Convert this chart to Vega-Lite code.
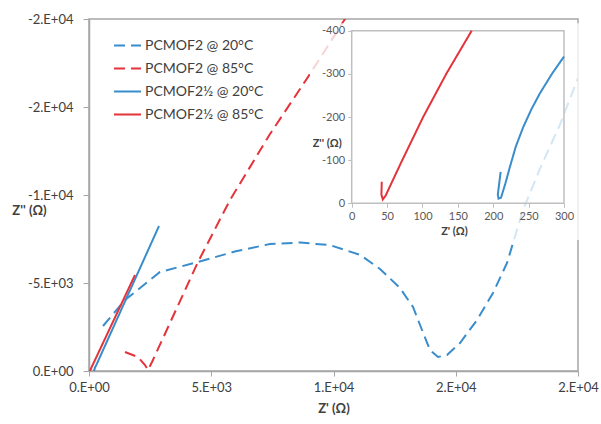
{
  "$schema": "https://vega.github.io/schema/vega-lite/v6.json",
  "width": 489,
  "height": 352,
  "autosize": {"type": "none"},
  "padding": {"left": 89, "top": 19, "right": 23, "bottom": 53},
  "background": "white",
  "config": {"font": "Lato", "view": {"stroke": "#A6A6A6", "strokeWidth": 1.5}},
  "datasets": {
    "imp": [
      {"series": "PCMOF2 @ 20°C", "i": 1, "zr": 573, "zi": -2557},
      {"series": "PCMOF2 @ 20°C", "i": 2, "zr": 1472, "zi": -4034},
      {"series": "PCMOF2 @ 20°C", "i": 3, "zr": 2904, "zi": -5625},
      {"series": "PCMOF2 @ 20°C", "i": 4, "zr": 4458, "zi": -6193},
      {"series": "PCMOF2 @ 20°C", "i": 5, "zr": 6000, "zi": -6800},
      {"series": "PCMOF2 @ 20°C", "i": 6, "zr": 7403, "zi": -7216},
      {"series": "PCMOF2 @ 20°C", "i": 7, "zr": 8630, "zi": -7300},
      {"series": "PCMOF2 @ 20°C", "i": 8, "zr": 9857, "zi": -7150},
      {"series": "PCMOF2 @ 20°C", "i": 9, "zr": 11084, "zi": -6600},
      {"series": "PCMOF2 @ 20°C", "i": 10, "zr": 11902, "zi": -5800},
      {"series": "PCMOF2 @ 20°C", "i": 11, "zr": 12720, "zi": -4716},
      {"series": "PCMOF2 @ 20°C", "i": 12, "zr": 13252, "zi": -3636},
      {"series": "PCMOF2 @ 20°C", "i": 13, "zr": 13620, "zi": -2330},
      {"series": "PCMOF2 @ 20°C", "i": 14, "zr": 13947, "zi": -1193},
      {"series": "PCMOF2 @ 20°C", "i": 15, "zr": 14274, "zi": -795},
      {"series": "PCMOF2 @ 20°C", "i": 16, "zr": 14642, "zi": -909},
      {"series": "PCMOF2 @ 20°C", "i": 17, "zr": 15174, "zi": -1591},
      {"series": "PCMOF2 @ 20°C", "i": 18, "zr": 15869, "zi": -2898},
      {"series": "PCMOF2 @ 20°C", "i": 19, "zr": 16524, "zi": -4432},
      {"series": "PCMOF2 @ 20°C", "i": 20, "zr": 17096, "zi": -6136},
      {"series": "PCMOF2 @ 20°C", "i": 21, "zr": 17751, "zi": -9148},
      {"series": "PCMOF2 @ 20°C", "i": 22, "zr": 18446, "zi": -11500},
      {"series": "PCMOF2 @ 20°C", "i": 23, "zr": 19264, "zi": -14000},
      {"series": "PCMOF2 @ 20°C", "i": 24, "zr": 20000, "zi": -16648},
      {"series": "PCMOF2 @ 85°C", "i": 1, "zr": 1472, "zi": -1080},
      {"series": "PCMOF2 @ 85°C", "i": 2, "zr": 2004, "zi": -795},
      {"series": "PCMOF2 @ 85°C", "i": 3, "zr": 2290, "zi": -341},
      {"series": "PCMOF2 @ 85°C", "i": 4, "zr": 2413, "zi": -57},
      {"series": "PCMOF2 @ 85°C", "i": 5, "zr": 2577, "zi": -511},
      {"series": "PCMOF2 @ 85°C", "i": 6, "zr": 3517, "zi": -3352},
      {"series": "PCMOF2 @ 85°C", "i": 7, "zr": 4458, "zi": -6193},
      {"series": "PCMOF2 @ 85°C", "i": 8, "zr": 5767, "zi": -9716},
      {"series": "PCMOF2 @ 85°C", "i": 9, "zr": 7403, "zi": -13466},
      {"series": "PCMOF2 @ 85°C", "i": 10, "zr": 9039, "zi": -16875},
      {"series": "PCMOF2 @ 85°C", "i": 11, "zr": 10470, "zi": -20000},
      {"series": "PCMOF2 @ 85°C", "i": 12, "zr": 11000, "zi": -21000},
      {"series": "PCMOF2½ @ 20°C", "i": 1, "zr": 210.5, "zi": -73},
      {"series": "PCMOF2½ @ 20°C", "i": 2, "zr": 206.5, "zi": -20},
      {"series": "PCMOF2½ @ 20°C", "i": 3, "zr": 207.5, "zi": -11},
      {"series": "PCMOF2½ @ 20°C", "i": 4, "zr": 211, "zi": -13},
      {"series": "PCMOF2½ @ 20°C", "i": 5, "zr": 217, "zi": -45},
      {"series": "PCMOF2½ @ 20°C", "i": 6, "zr": 223.7, "zi": -85},
      {"series": "PCMOF2½ @ 20°C", "i": 7, "zr": 232, "zi": -132},
      {"series": "PCMOF2½ @ 20°C", "i": 8, "zr": 242.5, "zi": -177},
      {"series": "PCMOF2½ @ 20°C", "i": 9, "zr": 254, "zi": -218},
      {"series": "PCMOF2½ @ 20°C", "i": 10, "zr": 266, "zi": -255},
      {"series": "PCMOF2½ @ 20°C", "i": 11, "zr": 283, "zi": -300},
      {"series": "PCMOF2½ @ 20°C", "i": 12, "zr": 300, "zi": -340},
      {"series": "PCMOF2½ @ 20°C", "i": 13, "zr": 2863, "zi": -8239},
      {"series": "PCMOF2½ @ 85°C", "i": 1, "zr": 42.5, "zi": -50},
      {"series": "PCMOF2½ @ 85°C", "i": 2, "zr": 42, "zi": -20},
      {"series": "PCMOF2½ @ 85°C", "i": 3, "zr": 44, "zi": -9},
      {"series": "PCMOF2½ @ 85°C", "i": 4, "zr": 48, "zi": -18},
      {"series": "PCMOF2½ @ 85°C", "i": 5, "zr": 70, "zi": -95},
      {"series": "PCMOF2½ @ 85°C", "i": 6, "zr": 101, "zi": -200},
      {"series": "PCMOF2½ @ 85°C", "i": 7, "zr": 134, "zi": -301},
      {"series": "PCMOF2½ @ 85°C", "i": 8, "zr": 169.6, "zi": -400},
      {"series": "PCMOF2½ @ 85°C", "i": 9, "zr": 1881, "zi": -5455}
    ]
  },
  "layer": [
    {
      "data": {"name": "imp"},
      "mark": {"type": "line", "strokeWidth": 2, "clip": true},
      "encoding": {
        "x": {
          "field": "zr", "type": "quantitative",
          "scale": {"domain": [0, 20000], "nice": false, "zero": false},
          "axis": {
            "values": [0, 5000, 10000, 15000, 20000],
            "labelExpr": "datum.value == 0 ? '0.E+00' : datum.value == 5000 ? '5.E+03' : datum.value == 10000 ? '1.E+04' : '2.E+04'",
            "grid": false, "domainColor": "#A6A6A6", "domainWidth": 1.5,
            "tickColor": "#A6A6A6", "tickSize": 5, "labelFontSize": 13, "labelColor": "#404040",
            "labelPadding": 5, "labelFlush": false,
            "title": "Z' (Ω)", "titleFontSize": 13, "titleFontWeight": "bold", "titleColor": "#404040", "titlePadding": 8
          }
        },
        "y": {
          "field": "zi", "type": "quantitative",
          "scale": {"domain": [-20000, 0], "reverse": true, "nice": false, "zero": false},
          "axis": {
            "values": [0, -5000, -10000, -15000, -20000],
            "labelExpr": "datum.value == 0 ? '0.E+00' : datum.value == -5000 ? '-5.E+03' : datum.value == -10000 ? '-1.E+04' : '-2.E+04'",
            "grid": false, "domainColor": "#A6A6A6", "domainWidth": 1.5,
            "tickColor": "#A6A6A6", "tickSize": 6, "labelFontSize": 13, "labelColor": "#404040",
            "labelPadding": 10, "labelFlush": false,
            "title": "Z'' (Ω)", "titleFontSize": 13, "titleFontWeight": "bold", "titleColor": "#404040",
            "titleAngle": 0, "titleX": -60, "titleY": 191, "titleAlign": "center", "titleBaseline": "middle"
          }
        },
        "color": {
          "field": "series", "type": "nominal",
          "scale": {"domain": ["PCMOF2 @ 20°C", "PCMOF2 @ 85°C", "PCMOF2½ @ 20°C", "PCMOF2½ @ 85°C"], "range": ["#3A8DCC", "#E5333B", "#3A8DCC", "#E5333B"]},
          "legend": {"orient": "none", "legendX": 24, "legendY": 12, "title": null, "padding": 0, "symbolType": "stroke", "symbolSize": 729, "symbolStrokeWidth": 2, "labelFontSize": 14, "labelColor": "#404040", "labelFont": "Lato", "rowPadding": 1, "labelOffset": 3}
        },
        "strokeDash": {
          "field": "series", "type": "nominal",
          "scale": {"domain": ["PCMOF2 @ 20°C", "PCMOF2 @ 85°C", "PCMOF2½ @ 20°C", "PCMOF2½ @ 85°C"], "range": [[11, 6], [11, 6], [1, 0], [1, 0]]},
          "legend": {"orient": "none", "legendX": 24, "legendY": 12, "title": null, "padding": 0, "symbolType": "stroke", "symbolSize": 729, "symbolStrokeWidth": 2, "labelFontSize": 14, "labelColor": "#404040", "labelFont": "Lato", "rowPadding": 1, "labelOffset": 3}
        },
        "order": {"field": "i", "type": "quantitative"}
      }
    },
    {
      "layer": [
        {
          "data": {"values": [{}]},
          "mark": {"type": "rect", "fill": "white", "opacity": 0.78},
          "encoding": {
            "x": {"datum": -59, "type": "quantitative", "scale": {"domain": [-371.2, 319.8], "nice": false, "zero": false},
              "axis": {"orient": "bottom", "offset": -167.7, "zindex": 2, "values": [0, 50, 100, 150, 200, 250, 300], "domain": false, "grid": false, "tickSize": 4, "tickColor": "#BFBFBF", "labelFontSize": 11, "labelColor": "#595959", "labelPadding": 3, "labelExpr": "toString(datum.value)", "title": "Z' (Ω)", "titleFontSize": 11, "titleFontWeight": "bold", "titleColor": "#404040", "titleX": 365, "titleY": 28, "titleAlign": "center", "titleBaseline": "middle"}},
            "x2": {"datum": 330},
            "y": {"datum": -417, "type": "quantitative", "scale": {"domain": [-427.1, 388.6], "reverse": true, "nice": false, "zero": false},
              "axis": {"orient": "left", "offset": -262.7, "zindex": 2, "values": [0, -100, -200, -300, -400], "domain": false, "grid": false, "tickSize": 4, "tickColor": "#BFBFBF", "labelFontSize": 11, "labelColor": "#595959", "labelPadding": 3, "labelExpr": "toString(datum.value)", "title": "Z'' (Ω)", "titleFontSize": 11, "titleFontWeight": "bold", "titleColor": "#404040", "titleAngle": 0, "titleX": -25, "titleY": 124, "titleAlign": "center", "titleBaseline": "middle"}},
            "y2": {"datum": 85}
          }
        },
        {
          "data": {"values": [{}]},
          "mark": {"type": "rect", "fillOpacity": 0, "stroke": "#BFBFBF", "strokeWidth": 1.5},
          "encoding": {
            "x": {"datum": 0, "type": "quantitative"},
            "x2": {"datum": 300},
            "y": {"datum": 0, "type": "quantitative"},
            "y2": {"datum": -400}
          }
        },
        {
          "data": {"name": "imp"},
          "transform": [{"filter": "datum.zr <= 300.5 && datum.zi >= -400.5"}],
          "mark": {"type": "line", "strokeWidth": 2},
          "encoding": {
            "x": {"field": "zr", "type": "quantitative"},
            "y": {"field": "zi", "type": "quantitative"},
            "color": {"field": "series", "type": "nominal"},
            "strokeDash": {"field": "series", "type": "nominal"},
            "order": {"field": "i", "type": "quantitative"}
          }
        }
      ]
    }
  ],
  "resolve": {"scale": {"x": "independent", "y": "independent"}, "axis": {"x": "independent", "y": "independent"}}
}
